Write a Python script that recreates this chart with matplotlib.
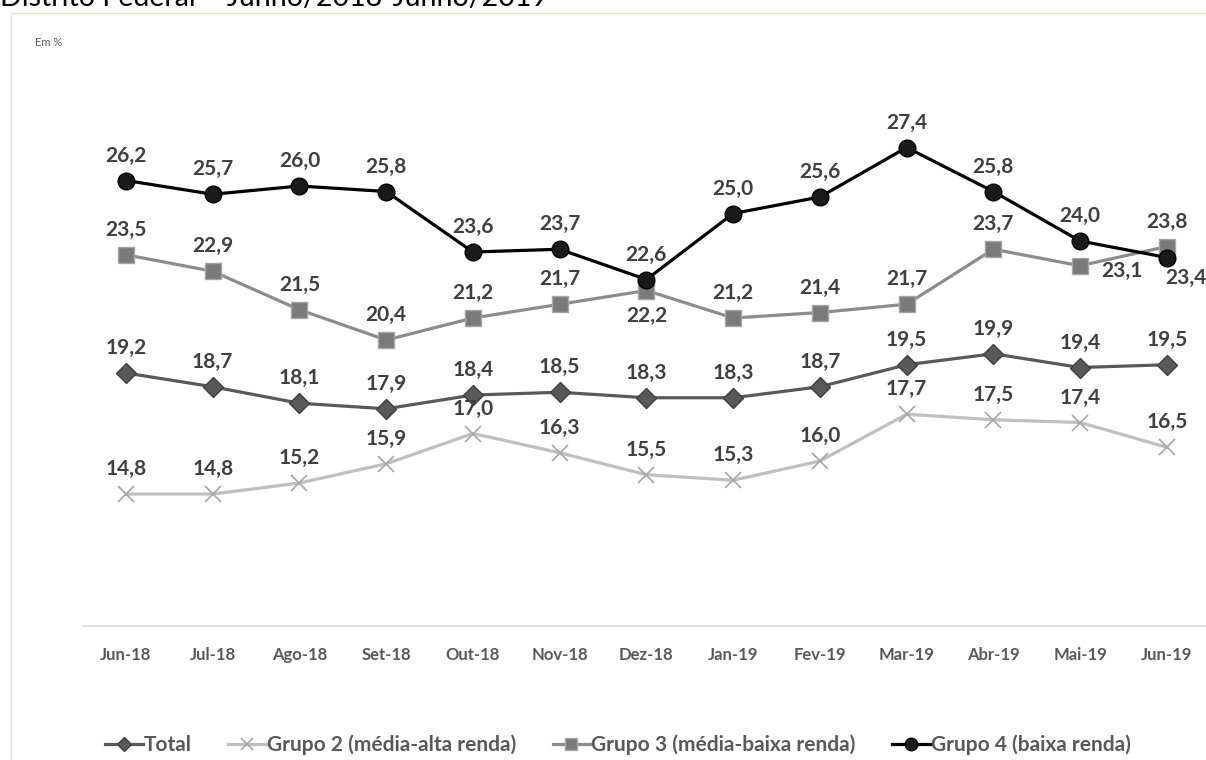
import matplotlib
matplotlib.use("Agg")
import matplotlib.pyplot as plt
from matplotlib.lines import Line2D
import numpy as np

meses = ["Jun-18", "Jul-18", "Ago-18", "Set-18", "Out-18", "Nov-18", "Dez-18",
         "Jan-19", "Fev-19", "Mar-19", "Abr-19", "Mai-19", "Jun-19"]
total = [19.2, 18.7, 18.1, 17.9, 18.4, 18.5, 18.3, 18.3, 18.7, 19.5, 19.9, 19.4, 19.5]
grupo2 = [14.8, 14.8, 15.2, 15.9, 17.0, 16.3, 15.5, 15.3, 16.0, 17.7, 17.5, 17.4, 16.5]
grupo3 = [23.5, 22.9, 21.5, 20.4, 21.2, 21.7, 22.2, 21.2, 21.4, 21.7, 23.7, 23.1, 23.8]
grupo4 = [26.2, 25.7, 26.0, 25.8, 23.6, 23.7, 22.6, 25.0, 25.6, 27.4, 25.8, 24.0, 23.4]

plt.rcParams['font.family'] = ['Lato', 'DejaVu Sans']

fig = plt.figure(figsize=(12.06, 7.6), dpi=100)
ax = fig.add_axes([0.0685, 0.1763, 0.935, 0.7237])
x = np.arange(len(meses))

# moldura / titulo cortado
fig.text(0.0, 1 - 6 / 760, "Distrito Federal – Junho/2018-Junho/2019", fontsize=20.5,
         color="black", ha="left", va="baseline")
fig.add_artist(Line2D([11 / 1206, 1], [1 - 13 / 760, 1 - 13 / 760], color="#EFEF80", lw=1))
fig.add_artist(Line2D([11 / 1206, 11 / 1206], [0, 1 - 13 / 760], color="#E6E6E6", lw=1))
fig.text(35 / 1206, 1 - 43 / 760, "Em %", fontsize=8, color="#595959", va="center")

ax.plot(x, grupo2, color="#BFBFBF", lw=2.3, marker="x", ms=11, mew=1.2,
        mec="#A6A6A6", label="Grupo 2 (média-alta renda)", zorder=2)
ax.plot(x, total, color="#595959", lw=2.3, marker="D", ms=10,
        mfc="#595959", mec="#404040", label="Total", zorder=3)
ax.plot(x, grupo3, color="#8C8C8C", lw=2.3, marker="s", ms=12,
        mfc="#7A7A7A", mec="#A6A6A6", label="Grupo 3 (média-baixa renda)", zorder=3)
ax.plot(x, grupo4, color="#000000", lw=2.3, marker="o", ms=12,
        mfc="#1A1A1A", mec="#000000", label="Grupo 4 (baixa renda)", zorder=4)

lab = dict(fontsize=15, fontweight="bold", color="#3F3F3F", ha="center",
           va="center", textcoords="offset points", annotation_clip=False)

def fmt(v):
    return "{:.1f}".format(v).replace(".", ",")

for i, v in enumerate(total):
    ax.annotate(fmt(v), (i, v), xytext=(0, 18), **lab)
for i, v in enumerate(grupo2):
    ax.annotate(fmt(v), (i, v), xytext=(0, 18), **lab)
for i, v in enumerate(grupo3):
    if i == 6:
        ax.annotate(fmt(v), (i, v), xytext=(0, -18), **lab)
    elif i == 11:
        ax.annotate(fmt(v), (i, v), xytext=(30, -4), **lab)
    else:
        ax.annotate(fmt(v), (i, v), xytext=(0, 18), **lab)
for i, v in enumerate(grupo4):
    if i == 12:
        ax.annotate(fmt(v), (i, v), xytext=(14, -15), **lab)
    else:
        ax.annotate(fmt(v), (i, v), xytext=(0, 18), **lab)

ax.set_xlim(-0.5, 12.5)
ax.set_ylim(10, 30)
ax.set_yticks([])
ax.set_xticks(x)
ax.set_xticklabels(meses, fontsize=12, fontweight="bold", color="#595959")
ax.tick_params(axis="x", length=0, pad=15)
for s in ["top", "right", "left"]:
    ax.spines[s].set_visible(False)
ax.spines["bottom"].set_color("#D9D9D9")
ax.spines["bottom"].set_linewidth(1.2)

handles, labels = ax.get_legend_handles_labels()
order = [1, 0, 2, 3]
fig.legend([handles[k] for k in order], [labels[k] for k in order],
           loc="center", bbox_to_anchor=(0.5124, 1 - 745 / 760), ncol=4,
           frameon=False, handlelength=1.8, handletextpad=0.05, columnspacing=1.75,
           markerscale=0.75,
           prop={"family": ["Lato", "DejaVu Sans"], "weight": "bold", "size": 15},
           labelcolor="#595959")

fig.savefig("out.png", dpi=100)
